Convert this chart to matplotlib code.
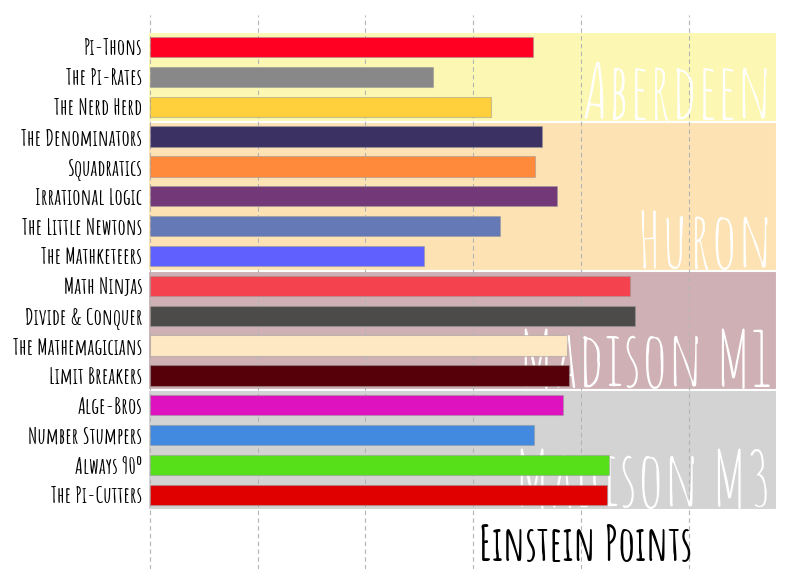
import matplotlib
matplotlib.use("Agg")
import matplotlib.pyplot as plt

# datos
teams = ["Pi-Thons", "The Pi-Rates", "The Nerd Herd",
         "The Denominators", "Squadratics", "Irrational Logic", "The Little Newtons", "The Mathketeers",
         "Math Ninjas", "Divide & Conquer", "The Mathemagicians", "Limit Breakers",
         "Alge-Bros", "Number Stumpers", "Always 90º", "The Pi-Cutters"]
points = [71.1, 52.5, 63.3, 72.8, 71.4, 75.6, 65.0, 50.8,
          89.1, 90.0, 77.5, 77.8, 76.6, 71.3, 85.2, 84.9]
bar_colors = ["#FF0022", "#888888", "#FFD03B",
              "#3B3163", "#FF8A3B", "#733878", "#6479B5", "#6060FF",
              "#F5424F", "#4D4B4A", "#FEE8C4", "#560009",
              "#DE12BE", "#418AE0", "#55E01A", "#E00000"]
regions = ["Aberdeen", "Huron", "Madison M1", "Madison M3"]
region_sizes = [3, 5, 4, 4]
region_colors = ["#FCF8B4", "#FDE3B4", "#CFB1B5", "#D3D3D3"]

plt.rcParams["font.family"] = ["Amatic SC", "Barlow Condensed", "DejaVu Sans"]

fig = plt.figure(figsize=(8.07, 5.69), dpi=100)
ax = fig.add_axes([148/807, 0, (777-148)/807, (569-15)/569])

start = 0
for name, n, col in zip(regions, region_sizes, region_colors):
    ax.axhspan(start-0.5, start+n-0.5, color=col, ec="white", lw=1.5, zorder=0.2)
    ax.text(116.4-0.8, start+n-0.5-0.1, name, ha="right", va="baseline",
            fontsize=55, color="white", zorder=0.9)
    start += n

y = list(range(len(teams)))
ax.barh(y, points, height=0.68, color=bar_colors,
        edgecolor=(0.6, 0.6, 0.6, 0.5), linewidth=0.8, zorder=2)

ax.set_xlim(-0.37, 116.4)
ax.set_ylim(17.48, -1.07)
ax.set_xticks(range(0, 120, 20))
ax.set_xticklabels([])
ax.tick_params(length=0)
ax.set_yticks(y)
ax.set_yticklabels(teams, fontsize=16.5, fontweight="bold")
ax.tick_params(axis="y", pad=4)
ax.set_axisbelow(True)
ax.grid(axis="x", ls=(0, (4, 3)), color="#b4b4b4", lw=0.8)
ax.grid(axis="y", visible=False)
for s in ax.spines.values():
    s.set_visible(False)

fig.text(586/807, 1-543/569, "Einstein Points", ha="center", va="center",
         fontsize=34, fontweight="bold")

fig.savefig("out.png", dpi=100)
